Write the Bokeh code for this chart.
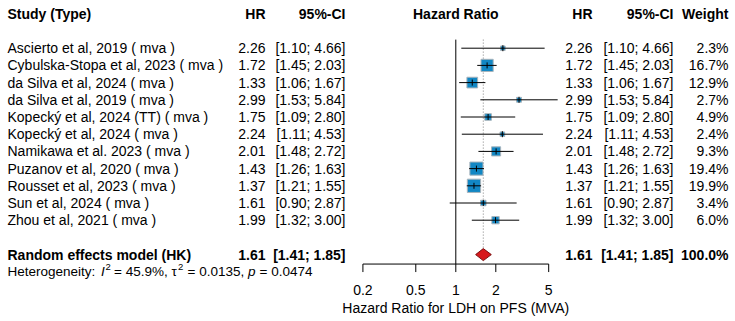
import numpy as np
from bokeh.plotting import figure
from bokeh.models import Range1d, LogScale, ColumnDataSource
from bokeh.core.properties import value
from bokeh.embed import file_html
from bokeh.resources import INLINE

# ---- data -------------------------------------------------------------
studies = [
    "Ascierto et al, 2019 ( mva )",
    "Cybulska-Stopa et al, 2023 ( mva )",
    "da Silva et al, 2024 ( mva )",
    "da Silva et al, 2019 ( mva )",
    "Kopecký et al, 2024 (TT) ( mva )",
    "Kopecký et al, 2024 ( mva )",
    "Namikawa et al. 2023 ( mva )",
    "Puzanov et al, 2020 ( mva )",
    "Rousset et al, 2023 ( mva )",
    "Sun et al, 2024 ( mva )",
    "Zhou et al, 2021 ( mva )",
]
hr = [2.26, 1.72, 1.33, 2.99, 1.75, 2.24, 2.01, 1.43, 1.37, 1.61, 1.99]
ci_lower = [1.10, 1.45, 1.06, 1.53, 1.09, 1.11, 1.48, 1.26, 1.21, 0.90, 1.32]
ci_upper = [4.66, 2.03, 1.67, 5.84, 2.80, 4.53, 2.72, 1.63, 1.55, 2.87, 3.00]
weights = [2.3, 16.7, 12.9, 2.7, 4.9, 2.4, 9.3, 19.4, 19.9, 3.4, 6.0]

pooled_label = "Random effects model (HK)"
pooled_hr, pooled_lower, pooled_upper = 1.61, 1.41, 1.85
pooled_weight = 100.0
i2, tau2, p_het = 45.9, 0.0135, 0.0474

null_effect = 1
axis_ticks = [0.2, 0.5, 1, 2, 5]
x_label = "Hazard Ratio for LDH on PFS (MVA)"

# ---- layout -------------------------------------------------------------
W, H = 735, 321
ROW0, ROWH = 47.7, 17.2          # pixel centre of first study row, row pitch
X_ONE, DECADE = 455.3, 132.9     # pixel position of HR = 1, pixels per decade
FONT = value("Liberation Sans")
FS = "14px"
BLUE = "#1287C4"

n = len(studies)
rows = list(range(n))
pooled_row = n + 1
axis_row = pooled_row + 0.55
het_row = pooled_row + 0.98
tick_label_row = pooled_row + 2.03
title_row = pooled_row + 3.08
header_row = -2

p = figure(
    width=W, height=H,
    x_range=Range1d(0, W),
    y_range=Range1d((H - ROW0) / ROWH, -ROW0 / ROWH),
    toolbar_location=None, output_backend="svg",
    min_border=0, x_axis_location=None, y_axis_location=None,
    outline_line_color=None,
)
p.grid.visible = False
p.background_fill_color = "white"
p.border_fill_color = "white"

hr_lo = 10 ** (-X_ONE / DECADE)
hr_hi = 10 ** ((W - X_ONE) / DECADE)
p.extra_x_ranges = {"hr": Range1d(hr_lo, hr_hi)}
p.extra_x_scales = {"hr": LogScale()}

src = ColumnDataSource(dict(
    study=studies, hr=hr, lo=ci_lower, hi=ci_upper, w=weights, row=rows,
    side=[2.98 * np.sqrt(w) for w in weights],
    hr_txt=[f"{v:.2f}" for v in hr],
    ci_txt=[f"[{a:.2f}; {b:.2f}]" for a, b in zip(ci_lower, ci_upper)],
    w_txt=[f"{w:.1f}%" for w in weights],
))

# reference lines
p.segment(x0=[null_effect], y0=[-0.5], x1=[null_effect], y1=[axis_row],
          line_color="black", line_width=1, x_range_name="hr")
p.segment(x0=[pooled_hr], y0=[-0.5], x1=[pooled_hr], y1=[pooled_row - 0.35],
          line_color="#808080", line_width=1, line_dash="1 2", x_range_name="hr")

# study boxes, confidence intervals, point marks
p.scatter("hr", "row", source=src, marker="square", size="side",
          fill_color=BLUE, line_color="#A8B4BC", line_width=1, x_range_name="hr")
p.segment(x0="lo", y0="row", x1="hi", y1="row", source=src,
          line_color="black", line_width=1, x_range_name="hr")
p.scatter("hr", "row", source=src, marker="dash", angle=np.pi / 2, size=6,
          line_color="black", line_width=1, x_range_name="hr")

# pooled diamond
p.patch(x=[pooled_lower, pooled_hr, pooled_upper, pooled_hr],
        y=[pooled_row, pooled_row - 0.35, pooled_row, pooled_row + 0.35],
        fill_color="#D7191C", line_color="#7A1010", line_width=1, x_range_name="hr")

# x axis
p.segment(x0=[axis_ticks[0]], y0=[axis_row], x1=[axis_ticks[-1]], y1=[axis_row],
          line_color="black", line_width=1, x_range_name="hr")
p.segment(x0=axis_ticks, y0=[axis_row] * len(axis_ticks), x1=axis_ticks,
          y1=[axis_row + 8 / ROWH] * len(axis_ticks),
          line_color="black", line_width=1, x_range_name="hr")
p.text(x=axis_ticks, y=[tick_label_row] * len(axis_ticks),
       text=[f"{t:g}" for t in axis_ticks], text_align="center",
       text_baseline="middle", text_font=FONT, text_font_size=FS,
       text_color="black", x_range_name="hr")
p.text(x=[null_effect], y=[title_row], text=[x_label], text_align="center",
       text_baseline="middle", text_font=FONT, text_font_size=FS,
       text_color="black", x_range_name="hr")


def txt(x, y, text, align="left", style="normal", size=FS, **kw):
    p.text(x=x, y=y, text=text, text_align=align, text_baseline="middle",
           text_font=FONT, text_font_size=size, text_font_style=style,
           text_color="black", **kw)


# headers
txt([7], [header_row], ["Study (Type)"], style="bold")
txt([265], [header_row], ["HR"], align="right", style="bold")
txt([345], [header_row], ["95%-CI"], align="right", style="bold")
p.text(x=[null_effect], y=[header_row], text=["Hazard Ratio"], text_align="center",
       text_baseline="middle", text_font=FONT, text_font_size=FS,
       text_font_style="bold", text_color="black", x_range_name="hr")
txt([592], [header_row], ["HR"], align="right", style="bold")
txt([673], [header_row], ["95%-CI"], align="right", style="bold")
txt([728], [header_row], ["Weight"], align="right", style="bold")

# study rows
for x, col, align in [(7, "study", "left"), (265, "hr_txt", "right"),
                      (345, "ci_txt", "right"), (592, "hr_txt", "right"),
                      (673, "ci_txt", "right"), (728, "w_txt", "right")]:
    p.text(x=x, y="row", text=col, source=src, text_align=align,
           text_baseline="middle", text_font=FONT, text_font_size=FS,
           text_color="black")

# pooled row
pooled_ci = f"[{pooled_lower:.2f}; {pooled_upper:.2f}]"
txt([7], [pooled_row], [pooled_label], style="bold")
txt([265, 592], [pooled_row] * 2, [f"{pooled_hr:.2f}"] * 2, align="right", style="bold")
txt([345, 673], [pooled_row] * 2, [pooled_ci] * 2, align="right", style="bold")
txt([728], [pooled_row], [f"{pooled_weight:.1f}%"], align="right", style="bold")

# heterogeneity line (pieces placed one after another)
HS = "13.5px"
SUP = "9.5px"
sup_row = het_row - 0.28
txt([7], [het_row], ["Heterogeneity:"], size=HS)
txt([100.5], [het_row], ["I"], style="italic", size=HS)
txt([105.0], [sup_row], ["2"], size=SUP)
txt([113.5], [het_row], [f"= {i2:.1f}%, τ"], size=HS)
txt([177.5], [sup_row], ["2"], size=SUP)
txt([187.0], [het_row], [f"= {tau2:.4f},"], size=HS)
txt([247.5], [het_row], ["p"], style="italic", size=HS)
txt([259.0], [het_row], [f"= {p_het:.4f}"], size=HS)

open("out.html", "w").write(file_html(p, INLINE))
